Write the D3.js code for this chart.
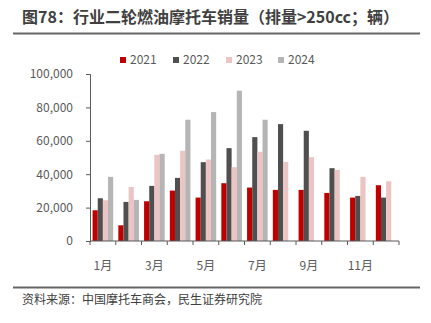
<!DOCTYPE html>
<html>
<head>
<meta charset="utf-8">
<script src="https://cdn.jsdelivr.net/npm/d3@7"></script>
<style>
  body { margin: 0; background: #fff; }
  text { font-family: "Noto Sans CJK SC", "Noto Sans", sans-serif; }
</style>
</head>
<body>
<script>
const width = 431, height = 323;
const margin = {top: 74, right: 32, bottom: 82, left: 90};

// data
const months = ["1月","2月","3月","4月","5月","6月","7月","8月","9月","10月","11月","12月"];
const years = ["2021","2022","2023","2024"];
const colors = ["#c00000","#4f4f4f","#ecc4c4","#b5b5b5"];
const v2021 = [18400, 9400, 23800, 30200, 26000, 34600, 32000, 30600, 30600, 28800, 26000, 33400];
const v2022 = [25600, 23400, 33000, 37800, 47200, 55600, 62200, 70000, 66000, 43600, 27000, 26000];
const v2023 = [24400, 32400, 51600, 54000, 48800, 44200, 53400, 47400, 50200, 42600, 38400, 35800];
const v2024 = [38400, 24600, 52200, 72600, 77200, 90000, 72600, null, null, null, null, null];
const series = [v2021, v2022, v2023, v2024];
const yTicks = [0, 20000, 40000, 60000, 80000, 100000];

const svg = d3.select("body").append("svg")
    .attr("width", width)
    .attr("height", height);

// title
svg.append("text")
    .attr("x", 22).attr("y", 23)
    .attr("font-size", 16).attr("font-weight", "bold")
    .attr("fill", "#404040")
    .text("图78：行业二轮燃油摩托车销量（排量>250cc；辆）");
svg.append("line")
    .attr("x1", 13).attr("x2", 420).attr("y1", 33.5).attr("y2", 33.5)
    .attr("stroke", "#666").attr("stroke-width", 2);

// legend
const legendX = [120, 173, 226, 278];
const legend = svg.append("g").selectAll("g")
    .data(years)
    .enter().append("g")
    .attr("transform", (d, i) => "translate(" + legendX[i] + ",56)");
legend.append("rect")
    .attr("width", 6).attr("height", 6).attr("y", 1)
    .attr("fill", (d, i) => colors[i]);
legend.append("text")
    .attr("x", 10).attr("y", 8)
    .attr("font-size", 12).attr("fill", "#595959")
    .text(d => d);

const x = d3.scaleBand()
    .domain(months)
    .range([margin.left, width - margin.right]);
const xInner = d3.scaleBand()
    .domain(years)
    .range([0, x.bandwidth()])
    .paddingOuter(0.5);
const y = d3.scaleLinear()
    .domain([0, 100000])
    .range([height - margin.bottom, margin.top]);

// bars
svg.append("g").selectAll("g")
    .data(series)
    .enter().append("g")
    .attr("fill", (d, i) => colors[i])
    .attr("data-year", (d, i) => years[i])
    .each(function(vals, si) {
      d3.select(this).selectAll("rect")
        .data(vals.map((v, i) => ({m: months[i], v: v})).filter(d => d.v != null))
        .enter().append("rect")
        .attr("x", d => x(d.m) + xInner(years[si]))
        .attr("width", xInner.bandwidth())
        .attr("y", d => y(d.v))
        .attr("height", d => y(0) - y(d.v));
    });

// y axis
const yAxis = svg.append("g")
    .attr("transform", "translate(" + margin.left + ",0)")
    .call(d3.axisLeft(y).tickValues(yTicks).tickSize(4).tickPadding(13)
      .tickFormat(d3.format(",")));
yAxis.select(".domain").attr("stroke", "#595959");
yAxis.selectAll(".tick line").attr("stroke", "#595959");
yAxis.selectAll("text").attr("font-size", 12).attr("fill", "#595959")
    .attr("font-family", "'Noto Sans CJK SC', sans-serif");

// x axis, ticks on band edges
const xAxisG = svg.append("g")
    .attr("transform", "translate(0," + y(0) + ")");
xAxisG.append("line")
    .attr("x1", margin.left).attr("x2", width - margin.right)
    .attr("stroke", "#595959");
xAxisG.selectAll(".edge")
    .data(months.concat(["end"]))
    .enter().append("line")
    .attr("class", "edge")
    .attr("x1", (d, i) => x.range()[0] + i * x.step())
    .attr("x2", (d, i) => x.range()[0] + i * x.step())
    .attr("y1", 0).attr("y2", 4)
    .attr("stroke", "#595959");
xAxisG.selectAll(".lbl")
    .data(months.filter((d, i) => i % 2 === 0))
    .enter().append("text")
    .attr("class", "lbl")
    .attr("x", d => x(d) + x.bandwidth() / 2)
    .attr("y", 29)
    .attr("text-anchor", "middle")
    .attr("font-size", 12).attr("fill", "#595959")
    .text(d => d);

// source
svg.append("line")
    .attr("x1", 13).attr("x2", 420).attr("y1", 287.5).attr("y2", 287.5)
    .attr("stroke", "#666").attr("stroke-width", 2);
svg.append("text")
    .attr("x", 22).attr("y", 304)
    .attr("font-size", 12).attr("fill", "#404040")
    .text("资料来源：中国摩托车商会，民生证券研究院");
</script>
</body>
</html>
